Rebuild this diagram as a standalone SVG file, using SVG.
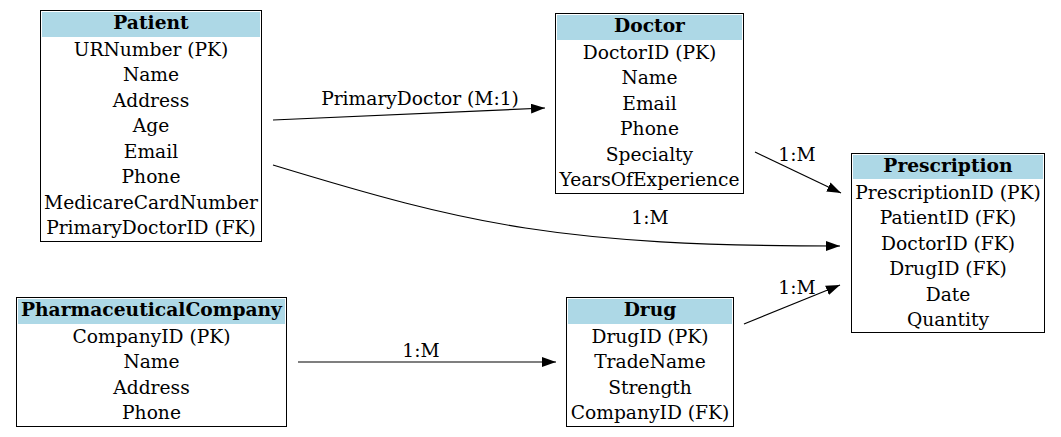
<svg xmlns="http://www.w3.org/2000/svg" width="1061" height="437" viewBox="0 0 1061 437">
<style>
text{font-family:"DejaVu Serif","Liberation Serif",serif;font-size:18.67px;fill:#000;text-anchor:middle}
.t{font-weight:bold}
.box{fill:#fff;stroke:#000;stroke-width:1}
.hd{fill:#add8e6}
.e{fill:none;stroke:#000;stroke-width:1.2}
</style>
<defs>
<marker id="ah" markerWidth="14" markerHeight="10" refX="14" refY="5" orient="auto" markerUnits="userSpaceOnUse">
<path d="M0,0 L14,5 L0,10 Z" fill="#000"/>
</marker>
</defs>
<rect width="1061" height="437" fill="#fff"/>
<g id="connectors">
<path class="e" d="M273,120 L545,108" marker-end="url(#ah)"/>
<text x="420" y="105">PrimaryDoctor (M:1)</text>
<path class="e" d="M273,165 C470,225 560,246 840,246" marker-end="url(#ah)"/>
<text x="650" y="224">1:M</text>
<path class="e" d="M755,152 L841,193" marker-end="url(#ah)"/>
<text x="797" y="161">1:M</text>
<path class="e" d="M744,324 L840,285" marker-end="url(#ah)"/>
<text x="797" y="294">1:M</text>
<path class="e" d="M298,362 L556,362" marker-end="url(#ah)"/>
<text x="421" y="357">1:M</text>
</g>
<g id="Patient">
<rect class="box" x="40.5" y="10.5" width="221" height="231"/>
<rect class="hd" x="42" y="12" width="218" height="25"/>
<text class="t" x="151" y="29">Patient</text>
<text x="151" y="55.5">URNumber (PK)</text>
<text x="151" y="81">Name</text>
<text x="151" y="106.5">Address</text>
<text x="151" y="132">Age</text>
<text x="151" y="157.5">Email</text>
<text x="151" y="183">Phone</text>
<text x="151" y="208.5">MedicareCardNumber</text>
<text x="151" y="234">PrimaryDoctorID (FK)</text>
</g>
<g id="Doctor">
<rect class="box" x="555.5" y="13.5" width="188" height="180"/>
<rect class="hd" x="557" y="15" width="185" height="25"/>
<text class="t" x="649.5" y="32">Doctor</text>
<text x="649.5" y="58.5">DoctorID (PK)</text>
<text x="649.5" y="84">Name</text>
<text x="649.5" y="109.5">Email</text>
<text x="649.5" y="135">Phone</text>
<text x="649.5" y="160.5">Specialty</text>
<text x="649.5" y="186">YearsOfExperience</text>
</g>
<g id="Prescription">
<rect class="box" x="851.5" y="153.5" width="193" height="179"/>
<rect class="hd" x="853" y="155" width="190" height="24"/>
<text class="t" x="948" y="172">Prescription</text>
<text x="948" y="198.5">PrescriptionID (PK)</text>
<text x="948" y="224">PatientID (FK)</text>
<text x="948" y="249.5">DoctorID (FK)</text>
<text x="948" y="275">DrugID (FK)</text>
<text x="948" y="300.5">Date</text>
<text x="948" y="326">Quantity</text>
</g>
<g id="PharmaceuticalCompany">
<rect class="box" x="16.5" y="297.5" width="270" height="129"/>
<rect class="hd" x="18" y="299" width="267" height="25"/>
<text class="t" x="151.5" y="316">PharmaceuticalCompany</text>
<text x="151.5" y="342.5">CompanyID (PK)</text>
<text x="151.5" y="368">Name</text>
<text x="151.5" y="393.5">Address</text>
<text x="151.5" y="419">Phone</text>
</g>
<g id="Drug">
<rect class="box" x="566.5" y="297.5" width="167" height="129"/>
<rect class="hd" x="568" y="299" width="164" height="25"/>
<text class="t" x="650" y="316">Drug</text>
<text x="650" y="342.5">DrugID (PK)</text>
<text x="650" y="368">TradeName</text>
<text x="650" y="393.5">Strength</text>
<text x="650" y="419">CompanyID (FK)</text>
</g>
</svg>
